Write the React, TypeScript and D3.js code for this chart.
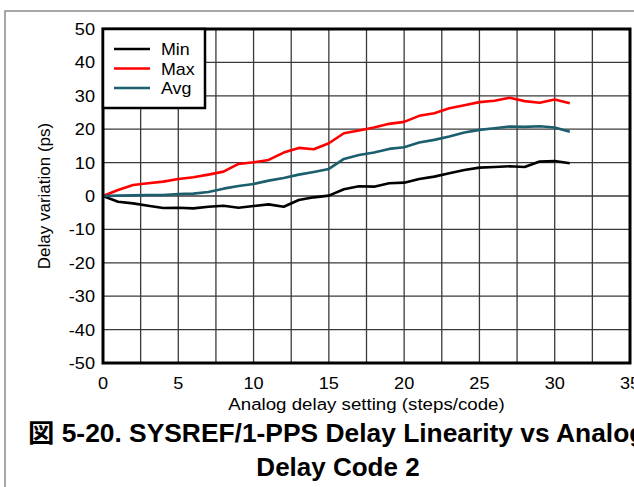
import * as d3 from 'd3'

const CODES = d3.range(0, 32)
const MIN_PS = [0, -1.7, -2.2, -2.9, -3.6, -3.5, -3.7, -3.2, -2.9, -3.5, -3.0, -2.5, -3.2, -1.2, -0.4, 0.1, 2.0, 2.9, 2.8, 3.8, 4.0, 5.1, 5.8, 6.8, 7.8, 8.5, 8.7, 8.9, 8.7, 10.3, 10.5, 9.8]
const MAX_PS = [0, 1.8, 3.3, 3.8, 4.3, 5.1, 5.6, 6.4, 7.3, 9.6, 10.1, 10.8, 13.0, 14.4, 14.0, 15.8, 18.8, 19.6, 20.5, 21.6, 22.2, 24.0, 24.8, 26.3, 27.2, 28.1, 28.5, 29.4, 28.4, 27.9, 28.9, 27.8]
const AVG_PS = [0, 0.1, 0.2, 0.3, 0.3, 0.6, 0.7, 1.2, 2.2, 3.0, 3.6, 4.6, 5.4, 6.4, 7.2, 8.1, 11.1, 12.3, 13.0, 14.1, 14.6, 16.0, 16.8, 17.8, 19.0, 19.8, 20.3, 20.8, 20.7, 20.9, 20.5, 19.2]
const SERIES_NAMES = ['Min', 'Max', 'Avg']
const SERIES_COLORS = ['#000000', '#ff0000', '#1b5e6d']
const X_TICKS = [0, 5, 10, 15, 20, 25, 30, 35]
const Y_TICKS = [-50, -40, -30, -20, -10, 0, 10, 20, 30, 40, 50]
const X_GRID = d3.range(2.5, 35, 2.5)
const X_TITLE = 'Analog delay setting (steps/code)'
const Y_TITLE = 'Delay variation (ps)'
const TITLE_1 = '図 5-20. SYSREF/1-PPS Delay Linearity vs Analog'
const TITLE_2 = 'Delay Code 2'

const W = 634
const H = 487
const PLOT = { left: 103, top: 29, right: 630, bottom: 363 }
const FONT = "'Liberation Sans', Arial, 'Noto Sans CJK JP', sans-serif"
const SX = 1.1

function Txt({ x, y, sx = SX, size, anchor = 'start', weight = 'normal', children }: {
  x: number; y: number; sx?: number; size: number; anchor?: string; weight?: string; children: string | number
}) {
  return (
    <text
      transform={`translate(${x},${y}) scale(${sx},1)`}
      textAnchor={anchor}
      fontSize={size}
      fontWeight={weight}
      fontFamily={FONT}
      fill="#000"
    >
      {children}
    </text>
  )
}

export default function App() {
  const x = d3.scaleLinear().domain([0, 35]).range([PLOT.left, PLOT.right])
  const y = d3.scaleLinear().domain([-50, 50]).range([PLOT.bottom, PLOT.top])
  const series = [MIN_PS, MAX_PS, AVG_PS]
  const line = d3
    .line<number>()
    .x((_, i) => x(CODES[i]))
    .y((v) => y(v))

  return (
    <svg
      width={W}
      height={H}
      viewBox={`0 0 ${W} ${H}`}
      style={{ position: 'absolute', left: 0, top: 0, background: '#fff' }}
    >
      <rect x={0} y={0} width={W} height={H} fill="#fff" />
      {/* outer frame, runs past the right and bottom edges */}
      <rect x={5} y={11} width={W + 40} height={H + 40} fill="none" stroke="#8a8a8a" strokeWidth={1.5} />

      {/* grid */}
      {Y_TICKS.slice(1, -1).map((t) => (
        <line key={`h${t}`} x1={PLOT.left} x2={PLOT.right} y1={y(t)} y2={y(t)} stroke="#3a3a3a" strokeWidth={1.3} />
      ))}
      {X_GRID.map((t) => (
        <line key={`v${t}`} x1={x(t)} x2={x(t)} y1={PLOT.top} y2={PLOT.bottom} stroke="#3a3a3a" strokeWidth={1.3} />
      ))}

      {/* series */}
      {series.map((s, i) => (
        <path
          key={SERIES_NAMES[i]}
          d={line(s) ?? undefined}
          fill="none"
          stroke={SERIES_COLORS[i]}
          strokeWidth={2.6}
          strokeLinejoin="round"
        />
      ))}

      {/* plot frame */}
      <rect
        x={PLOT.left}
        y={PLOT.top}
        width={PLOT.right - PLOT.left}
        height={PLOT.bottom - PLOT.top}
        fill="none"
        stroke="#000"
        strokeWidth={3}
      />

      {/* legend */}
      <rect x={PLOT.left} y={PLOT.top} width={102} height={79} fill="#fff" stroke="#000" strokeWidth={2.5} />
      {SERIES_NAMES.map((name, i) => (
        <g key={name}>
          <line x1={114} x2={150} y1={49 + i * 19.5} y2={49 + i * 19.5} stroke={SERIES_COLORS[i]} strokeWidth={2.6} />
          <Txt x={161} y={55 + i * 19.5} size={17} sx={1.05}>{name}</Txt>
        </g>
      ))}

      {/* axes labels */}
      {Y_TICKS.map((t) => (
        <Txt key={`yl${t}`} x={95} y={y(t) + 6} size={16.5} anchor="end">{t}</Txt>
      ))}
      {X_TICKS.map((t) => (
        <Txt key={`xl${t}`} x={x(t)} y={PLOT.bottom + 26} size={16.5} anchor="middle">{t}</Txt>
      ))}
      <Txt x={(PLOT.left + PLOT.right) / 2} y={410} size={17} anchor="middle">{X_TITLE}</Txt>
      <text
        transform={`translate(50,${(PLOT.top + PLOT.bottom) / 2}) rotate(-90)`}
        textAnchor="middle"
        fontSize={17}
        fontFamily={FONT}
        fill="#000"
      >
        {Y_TITLE}
      </text>

      {/* caption */}
      <Txt x={28} y={442} size={25} sx={1.055} weight="bold">{TITLE_1}</Txt>
      <Txt x={338} y={476} size={25} sx={1.04} weight="bold" anchor="middle">{TITLE_2}</Txt>
    </svg>
  )
}
